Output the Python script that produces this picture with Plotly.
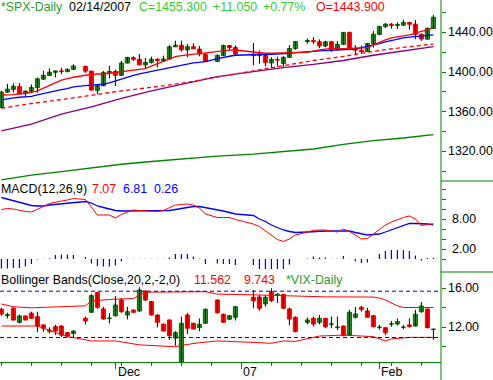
import numpy as np
import plotly.graph_objects as go

# ---------------- data ----------------
dates = [
    "2006-11-06", "2006-11-07", "2006-11-08", "2006-11-09", "2006-11-10",
    "2006-11-13", "2006-11-14", "2006-11-15", "2006-11-16", "2006-11-17",
    "2006-11-20", "2006-11-21", "2006-11-22", "2006-11-24",
    "2006-11-27", "2006-11-28", "2006-11-29", "2006-11-30", "2006-12-01",
    "2006-12-04", "2006-12-05", "2006-12-06", "2006-12-07", "2006-12-08",
    "2006-12-11", "2006-12-12", "2006-12-13", "2006-12-14", "2006-12-15",
    "2006-12-18", "2006-12-19", "2006-12-20", "2006-12-21", "2006-12-22",
    "2006-12-26", "2006-12-27", "2006-12-28", "2006-12-29",
    "2007-01-03", "2007-01-04", "2007-01-05",
    "2007-01-08", "2007-01-09", "2007-01-10", "2007-01-11", "2007-01-12",
    "2007-01-16", "2007-01-17", "2007-01-18", "2007-01-19",
    "2007-01-22", "2007-01-23", "2007-01-24", "2007-01-25", "2007-01-26",
    "2007-01-29", "2007-01-30", "2007-01-31", "2007-02-01", "2007-02-02",
    "2007-02-05", "2007-02-06", "2007-02-07", "2007-02-08", "2007-02-09",
    "2007-02-12", "2007-02-13", "2007-02-14",
]

spx_open = [1364.3, 1379.8, 1382.5, 1385.4, 1378.3, 1380.6, 1384.4, 1392.9, 1396.5, 1399.8,
            1401.2, 1400.4, 1402.7, 1405.9, 1401.0, 1381.6, 1386.1, 1399.5, 1400.6, 1396.7,
            1409.1, 1414.4, 1412.9, 1407.3, 1409.8, 1413.0, 1411.3, 1413.2, 1425.5, 1427.1,
            1422.4, 1425.5, 1423.2, 1418.1, 1410.8, 1416.6, 1426.8, 1424.7, 1418.0, 1416.6,
            1418.3, 1409.3, 1412.8, 1408.7, 1414.8, 1423.8, 1430.7, 1431.8, 1430.6, 1426.4,
            1430.5, 1423.0, 1428.0, 1440.1, 1423.9, 1422.0, 1420.6, 1428.7, 1437.9, 1445.9,
            1448.3, 1447.0, 1447.4, 1450.0, 1448.3, 1438.0, 1433.2, 1443.9]
spx_high = [1381.4, 1388.2, 1388.6, 1388.9, 1381.0, 1387.6, 1394.5, 1401.4, 1403.8, 1401.2,
            1404.4, 1403.5, 1407.9, 1405.9, 1401.0, 1387.9, 1401.1, 1406.3, 1402.5, 1411.2,
            1415.3, 1415.9, 1418.3, 1414.1, 1415.6, 1413.8, 1416.6, 1427.2, 1431.6, 1431.8,
            1428.3, 1429.1, 1426.4, 1418.8, 1417.9, 1427.7, 1427.3, 1427.0, 1429.4, 1421.8,
            1418.3, 1415.0, 1415.6, 1416.0, 1427.1, 1431.2, 1433.9, 1435.3, 1433.0, 1431.6,
            1431.4, 1431.3, 1440.1, 1440.7, 1427.3, 1426.9, 1428.8, 1441.6, 1446.6, 1449.3,
            1449.4, 1450.2, 1453.0, 1450.5, 1452.5, 1439.1, 1444.4, 1457.7]
spx_low = [1364.3, 1379.2, 1379.3, 1377.3, 1375.6, 1378.8, 1379.1, 1392.1, 1396.5, 1394.6,
           1397.9, 1400.0, 1402.3, 1399.3, 1381.4, 1377.8, 1386.1, 1393.8, 1385.9, 1396.7,
           1408.8, 1411.1, 1406.8, 1403.7, 1408.6, 1404.8, 1411.1, 1413.2, 1425.5, 1420.7,
           1414.9, 1423.5, 1415.9, 1410.3, 1410.5, 1416.6, 1422.1, 1416.8, 1407.0, 1408.4,
           1405.8, 1404.0, 1405.4, 1405.3, 1414.8, 1422.6, 1428.6, 1428.6, 1424.2, 1425.2,
           1420.4, 1421.7, 1428.0, 1422.3, 1417.0, 1418.5, 1420.6, 1424.8, 1437.9, 1444.5,
           1443.9, 1443.4, 1446.4, 1442.8, 1433.4, 1431.4, 1433.2, 1443.9]
spx_close = [1379.8, 1382.8, 1385.7, 1378.3, 1380.9, 1384.4, 1393.2, 1396.6, 1399.8, 1401.2,
             1400.5, 1402.8, 1406.1, 1401.0, 1381.9, 1386.7, 1399.5, 1400.6, 1396.7, 1409.1,
             1414.8, 1412.9, 1407.3, 1409.8, 1413.0, 1411.6, 1413.2, 1425.5, 1427.1, 1422.5,
             1425.6, 1423.5, 1418.3, 1410.8, 1416.9, 1426.8, 1424.7, 1418.3, 1416.6, 1418.3,
             1409.7, 1412.8, 1412.1, 1414.9, 1423.8, 1430.7, 1431.9, 1430.6, 1426.4, 1430.5,
             1423.0, 1428.0, 1440.1, 1423.9, 1422.2, 1420.6, 1428.8, 1438.2, 1445.9, 1448.4,
             1447.0, 1448.0, 1450.0, 1448.3, 1438.1, 1433.4, 1444.3, 1455.3]

ma_red = [1376.9, 1376.9, 1377.2, 1377.9, 1378.6, 1379.5, 1381.0, 1383.7, 1386.8, 1389.8,
          1391.9, 1393.4, 1394.8, 1396.8, 1397.8, 1398.1, 1398.1, 1398.8, 1399.4, 1400.6,
          1401.5, 1402.2, 1402.2, 1403.5, 1406.0, 1408.5, 1410.8, 1413.2, 1415.5, 1416.6,
          1417.2, 1418.0, 1418.7, 1419.4, 1420.6, 1421.4, 1422.2, 1422.3, 1420.3, 1419.4,
          1419.0, 1419.0, 1419.0, 1419.0, 1419.2, 1419.6, 1420.0, 1421.5, 1422.5, 1423.2,
          1423.8, 1423.6, 1423.4, 1423.8, 1424.1, 1424.3, 1424.6, 1427.4, 1430.2, 1432.6,
          1434.5, 1435.8, 1436.6, 1437.6, 1439.0, 1441.0, 1442.6, 1445.0]
ma_blue = [1371.9, 1373.1, 1373.9, 1374.6, 1375.0, 1375.4, 1376.9, 1378.4, 1379.8, 1381.0,
           1382.3, 1383.4, 1385.0, 1386.3, 1386.7, 1387.0, 1387.8, 1389.0, 1391.0, 1393.5,
           1395.4, 1396.8, 1398.2, 1399.5, 1400.7, 1402.0, 1403.5, 1404.8, 1406.0, 1407.2,
           1408.0, 1409.3, 1409.9, 1410.5, 1413.5, 1415.0, 1416.0, 1417.0, 1418.0, 1418.0,
           1418.0, 1418.0, 1418.2, 1418.5, 1419.0, 1419.6, 1420.8, 1421.3, 1421.5, 1421.7,
           1422.0, 1422.5, 1422.8, 1423.0, 1423.3, 1424.6, 1425.8, 1427.0, 1428.8, 1430.5,
           1432.0, 1433.2, 1434.6, 1435.3, 1435.8, 1436.1, 1436.6, 1437.5]

trend_dates = ["2006-11-06", "2006-11-13", "2006-11-20", "2006-11-27", "2006-12-04",
               "2006-12-11", "2006-12-18", "2006-12-26", "2007-01-03", "2007-01-10",
               "2007-01-17", "2007-01-24", "2007-01-31", "2007-02-07", "2007-02-14"]
ma_red_dash = [1363.5, 1368.3, 1372.2, 1376.9, 1381.0, 1384.6, 1388.7, 1395.0, 1401.5, 1406.5,
               1411.7, 1415.8, 1421.0, 1425.0, 1428.2]
ma_purple = [1340.8, 1347.5, 1357.5, 1365.0, 1373.5, 1381.0, 1387.5, 1395.5, 1400.4, 1404.5,
             1407.8, 1411.7, 1417.0, 1421.5, 1425.7]
ma_green = [1291.2, 1296.0, 1299.5, 1303.5, 1307.0, 1309.8, 1312.6, 1315.3, 1317.3, 1319.5,
            1322.4, 1327.0, 1330.8, 1333.5, 1336.9]

macd_line = [9.9, 10.1, 10.0, 9.7, 9.5, 9.4, 9.9, 10.5, 11.1, 11.4,
             11.6, 11.8, 12.1, 11.9, 10.3, 8.8, 8.8, 8.8, 8.2, 8.9,
             9.4, 9.8, 9.7, 9.6, 9.5, 9.5, 9.7, 10.3, 10.8, 10.9,
             11.0, 10.8, 10.2, 9.0, 8.3, 8.3, 8.3, 7.9, 7.0, 6.5,
             5.6, 4.7, 3.9, 3.5, 4.0, 4.8, 5.5, 5.7, 5.8, 5.8,
             5.6, 5.4, 6.0, 5.5, 4.8, 4.0, 4.1, 5.0, 5.9, 6.8,
             7.4, 7.9, 8.3, 8.6, 8.0, 6.7, 6.9, 7.07]
macd_signal = [12.3, 12.0, 11.7, 11.4, 11.1, 10.7, 10.6, 10.6, 10.8, 10.9,
               11.0, 11.1, 11.3, 11.5, 11.2, 10.6, 10.3, 10.0, 9.7, 9.6,
               9.6, 9.6, 9.6, 9.6, 9.6, 9.6, 9.6, 9.7, 9.9, 10.1,
               10.3, 10.5, 10.5, 10.3, 9.8, 9.6, 9.3, 9.0, 8.7, 8.0,
               7.5, 6.8, 6.3, 5.8, 5.5, 5.3, 5.4, 5.5, 5.5, 5.6,
               5.6, 5.6, 5.6, 5.6, 5.3, 5.1, 4.8, 4.9, 5.0, 5.4,
               5.8, 6.2, 6.7, 7.1, 7.1, 7.1, 7.0, 6.81]
macd_hist = [-1.9, -1.9, -1.8, -1.8, -1.5, -1.0, -0.1, 0.05, 0.1, 0.8,
             0.9, 0.9, 0.8, 0.4, -0.9, -1.4, -1.5, -1.5, -1.3, -0.5,
             0.05, 0.05, 0.05, 0.05, 0.05, 0.05, 0.05, 0.3, 1.0, 1.0,
             1.0, 0.5, 0.1, -1.0, -0.9, -1.0, -1.0, -1.2, -1.2, -2.0,
             -2.0, -2.0, -2.0, -2.0, -1.1, 0.0, 0.1, 0.5, 0.3, 0.3,
             0.05, 0.05, 0.6, 0.05, -0.5, -0.8, -0.7, 0.05, 1.0, 1.6,
             1.8, 1.8, 1.8, 1.6, 0.7, -0.3, 0.2, 0.26]

vix_open = [13.85, 13.2, 13.95, 12.51, 13.16, 13.44, 13.09, 12.24, 11.6, 12.06,
            12.13, 11.45, 11.38, 12.92, 13.54, 15.55, 13.88, 12.9, 13.19, 14.8,
            13.26, 13.77, 13.67, 15.72, 14.63, 13.26, 12.31, 12.75, 10.9, 8.3,
            13.26, 12.41, 11.96, 12.41, 14.8, 13.33, 12.82, 13.03, 15.08, 15.1,
            14.4, 15.65, 15.35, 15.38, 13.88, 13.03, 12.51, 12.92, 12.51, 12.92,
            12.3, 11.98, 12.13, 11.2, 13.03, 14.05, 13.67, 13.19, 11.98, 11.96,
            12.32, 12.34, 11.98, 12.24, 12.13, 13.6, 13.88, 11.77]
vix_high = [14.0, 13.5, 14.1, 13.3, 13.2, 13.6, 13.6, 12.3, 12.0, 12.25,
            12.2, 11.5, 11.65, 13.1, 15.4, 15.6, 14.1, 13.45, 15.2, 15.0,
            14.1, 13.8, 16.1, 15.75, 14.7, 13.3, 12.4, 12.8, 11.6, 13.1,
            13.45, 12.45, 12.9, 13.9, 14.85, 13.4, 13.2, 14.15, 15.83, 15.3,
            15.3, 16.0, 15.5, 15.4, 14.0, 13.1, 13.0, 13.1, 13.26, 12.95,
            13.1, 13.1, 12.15, 13.8, 14.1, 14.2, 14.0, 13.2, 12.25, 11.97,
            12.65, 12.9, 12.25, 12.9, 13.8, 14.6, 13.9, 11.85]
vix_low = [13.2, 12.9, 12.7, 12.4, 12.7, 12.9, 11.5, 11.55, 11.35, 11.2,
           11.0, 11.0, 10.9, 12.3, 13.5, 13.9, 12.8, 12.4, 13.1, 13.5,
           12.8, 13.5, 13.6, 14.7, 13.2, 12.0, 11.6, 10.7, 10.1, 8.3,
           11.3, 11.8, 11.6, 12.4, 13.4, 12.5, 12.8, 12.7, 13.95, 13.7,
           14.1, 14.6, 14.5, 13.9, 12.2, 11.5, 12.3, 12.1, 12.3, 11.9,
           11.9, 11.7, 11.1, 11.1, 12.9, 13.6, 13.0, 12.0, 11.75, 11.2,
           12.05, 12.2, 11.8, 12.0, 12.1, 13.5, 11.9, 10.7]
vix_close = [13.36, 13.3, 12.75, 13.16, 12.75, 12.92, 12.13, 11.9, 11.7, 11.62,
             11.2, 11.1, 11.62, 12.65, 15.24, 14.05, 12.85, 12.95, 14.29, 13.6,
             13.6, 13.54, 15.83, 14.8, 13.26, 12.51, 11.62, 11.14, 11.45, 12.41,
             11.9, 11.82, 12.31, 13.85, 13.5, 12.51, 13.19, 14.11, 14.73, 13.95,
             15.08, 14.73, 15.4, 13.95, 12.85, 11.55, 12.75, 12.34, 12.92, 12.06,
             12.35, 12.03, 11.14, 13.54, 13.36, 13.85, 13.03, 12.06, 12.02, 11.45,
             12.36, 12.58, 12.02, 12.06, 13.33, 14.18, 11.96, 11.82]

bb_upper_dates = ["2006-11-06", "2006-11-08", "2006-11-13", "2006-11-22", "2006-11-24",
                  "2006-11-27", "2006-11-30", "2006-12-06", "2006-12-07", "2006-12-08",
                  "2006-12-22", "2006-12-26", "2007-01-03", "2007-01-12", "2007-01-19",
                  "2007-01-31", "2007-02-01", "2007-02-02", "2007-02-05", "2007-02-06",
                  "2007-02-07", "2007-02-14"]
bb_upper = [14.39, 14.1, 14.0, 14.1, 14.2, 14.7, 14.85, 14.95, 15.3, 15.6,
            15.65, 15.4, 15.33, 15.24, 15.12, 15.1, 15.0, 14.8, 14.5, 14.2,
            14.03, 14.03]
bb_lower_dates = ["2006-11-06", "2006-11-14", "2006-11-15", "2006-11-17", "2006-11-21",
                  "2006-11-22", "2006-11-27", "2006-12-01", "2006-12-07", "2006-12-15",
                  "2006-12-18", "2006-12-21", "2006-12-26", "2007-01-03", "2007-01-08",
                  "2007-01-10", "2007-01-12", "2007-01-18", "2007-01-24", "2007-01-31",
                  "2007-02-02", "2007-02-05", "2007-02-08", "2007-02-14"]
bb_lower = [12.13, 12.13, 11.9, 11.5, 11.04, 10.95, 10.6, 10.6, 10.2, 10.0,
            10.15, 10.42, 10.6, 10.45, 10.36, 10.6, 10.55, 11.1, 11.2, 11.04,
            10.6, 10.8, 10.97, 10.97]
vix_ref_levels = [15.7, 10.95]

price_ticks = [1440, 1400, 1360, 1320]
macd_ticks = [8, 2]
vix_ticks = [16, 12]
month_ticks = ["2006-12-01", "2007-01-01", "2007-02-01"]
month_labels = ["Dec", "07", "Feb"]

# ---------------- layout constants ----------------
W, H = 493, 380
PW, PH = 441, 362          # plot area size
GREEN_AX = "#008000"
UP = "#1f911f"
UP_EDGE = "#0d650d"
DN = "#ff0000"
FONT = "Liberation Sans, Arial, sans-serif"

t0 = np.datetime64("2006-11-06")


def xpos(ds):
    return np.busday_count(t0, np.array(ds, dtype="datetime64[D]")).astype(float)


def px(x):
    return x / PW


def py(y):
    return (PH - y) / PH


X = xpos(dates)
fig = go.Figure()


def add_candles(o, h, l, c, xa, ya):
    wx, wy = [], []
    for xi, hi, li in zip(X, h, l):
        wx += [xi, xi, None]
        wy += [li, hi, None]
    fig.add_trace(go.Scatter(x=wx, y=wy, mode="lines", line=dict(color="black", width=1),
                             xaxis=xa, yaxis=ya, hoverinfo="skip", showlegend=False))
    up = [i for i in range(len(o)) if c[i] >= o[i]]
    dn = [i for i in range(len(o)) if c[i] < o[i]]
    for idx, col, edge in ((up, UP, UP_EDGE), (dn, DN, DN)):
        fig.add_trace(go.Bar(
            x=[X[i] for i in idx], y=[abs(c[i] - o[i]) for i in idx],
            base=[min(o[i], c[i]) for i in idx], width=0.68,
            marker=dict(color=col, line=dict(color=edge, width=1)),
            xaxis=xa, yaxis=ya, showlegend=False, hoverinfo="skip"))


# price panel
add_candles(spx_open, spx_high, spx_low, spx_close, "x", "y")
Xt = xpos(trend_dates)
fig.add_trace(go.Scatter(x=Xt, y=ma_green, mode="lines", line=dict(color="#008000", width=1.3),
                         xaxis="x", yaxis="y", showlegend=False))
fig.add_trace(go.Scatter(x=Xt, y=ma_purple, mode="lines", line=dict(color="#800080", width=1.3),
                         xaxis="x", yaxis="y", showlegend=False))
fig.add_trace(go.Scatter(x=Xt, y=ma_red_dash, mode="lines",
                         line=dict(color="#ff0000", width=1.3, dash="4px,3px"),
                         xaxis="x", yaxis="y", showlegend=False))
fig.add_trace(go.Scatter(x=X, y=ma_blue, mode="lines", line=dict(color="#0000ff", width=1.3),
                         xaxis="x", yaxis="y", showlegend=False))
fig.add_trace(go.Scatter(x=X, y=ma_red, mode="lines", line=dict(color="#ff0000", width=1.3),
                         xaxis="x", yaxis="y", showlegend=False))

# MACD panel
fig.add_trace(go.Bar(x=X, y=macd_hist, width=0.2, marker=dict(color="#0000ff", line=dict(width=0)),
                     xaxis="x2", yaxis="y2", showlegend=False))
fig.add_trace(go.Scatter(x=X, y=macd_signal, mode="lines", line=dict(color="#0000ff", width=1.3),
                         xaxis="x2", yaxis="y2", showlegend=False))
fig.add_trace(go.Scatter(x=X, y=macd_line, mode="lines", line=dict(color="#ff0000", width=1),
                         xaxis="x2", yaxis="y2", showlegend=False))

# VIX panel
add_candles(vix_open, vix_high, vix_low, vix_close, "x3", "y3")
fig.add_trace(go.Scatter(x=xpos(bb_upper_dates), y=bb_upper, mode="lines",
                         line=dict(color="#ff0000", width=1), xaxis="x3", yaxis="y3", showlegend=False))
fig.add_trace(go.Scatter(x=xpos(bb_lower_dates), y=bb_lower, mode="lines",
                         line=dict(color="#ff0000", width=1), xaxis="x3", yaxis="y3", showlegend=False))

x_range = [-0.2333, 73.267]
d_price = [py(181), 1.0]
d_macd = [py(272), py(181)]
d_vix = [0.0, py(272)]

xcommon = dict(range=x_range, showgrid=False, zeroline=False, showticklabels=False)
ycommon = dict(side="right", showgrid=False, zeroline=False, showticklabels=False,
               ticks="outside", ticklen=4, tickcolor=GREEN_AX, tickmode="array")

month_pos = list(xpos(month_ticks))
fig.update_layout(
    width=W, height=H, autosize=False,
    margin=dict(l=0, r=W - PW, t=0, b=H - PH, pad=0),
    paper_bgcolor="white", plot_bgcolor="white",
    barmode="overlay", showlegend=False,
    xaxis=dict(anchor="y", ticks="", **xcommon),
    xaxis2=dict(anchor="y2", matches="x", ticks="", **xcommon),
    xaxis3=dict(anchor="y3", matches="x", ticks="outside", ticklen=6, tickcolor=GREEN_AX,
                tickmode="array", tickvals=month_pos,
                showline=True, linecolor=GREEN_AX, linewidth=1,
                minor=dict(ticks="outside", ticklen=3, tickcolor=GREEN_AX, tick0=0, dtick=5),
                **xcommon),
    yaxis=dict(domain=d_price, anchor="x", range=[1290.1, 1472.75],
               tickvals=list(range(1300, 1461, 20)), **ycommon),
    yaxis2=dict(domain=d_macd, anchor="x2", range=[-2.6, 15.6],
                tickvals=list(range(0, 15, 2)), **ycommon),
    yaxis3=dict(domain=d_vix, anchor="x3", range=[8.44, 17.67],
                tickvals=[10, 12, 14, 16], **ycommon),
)

shapes = [
    dict(type="line", xref="paper", yref="paper", x0=1, x1=1, y0=py(H), y1=1,
         line=dict(color=GREEN_AX, width=1)),
    dict(type="line", xref="paper", yref="paper", x0=1, x1=W / PW, y0=py(181), y1=py(181),
         line=dict(color=GREEN_AX, width=1)),
    dict(type="line", xref="paper", yref="paper", x0=1, x1=W / PW, y0=py(272), y1=py(272),
         line=dict(color=GREEN_AX, width=1)),
]
for lv in vix_ref_levels:
    shapes.append(dict(type="line", xref="paper", yref="y3", x0=0, x1=1, y0=lv, y1=lv,
                       line=dict(color="#0000b0", width=1, dash="4px,3px")))
fig.update_layout(shapes=shapes)

ann = []


def text(x, y, s, color, size=12.4, yref="paper"):
    ann.append(dict(x=px(x - 1), y=(py(y) if yref == "paper" else y), xref="paper", yref=yref,
                    text=s, showarrow=False, xanchor="left", yanchor="middle",
                    font=dict(family=FONT, size=size, color=color)))


text(0, 7, "*SPX-Daily", "#2e9b2e")
text(68, 7, "02/14/2007", "#000000")
text(138, 7, "C=1455.300", "#33cc33")
text(212, 7, "+11.050", "#33cc33")
text(262, 7, "+0.77%", "#33cc33")
text(315, 7, "O=1443.900", "#ff0000")

text(0, 189, "MACD(12,26,9)", "#000000")
text(91, 189, "7.07", "#ff0000")
text(122, 189, "6.81", "#0000ff")
text(153, 189, "0.26", "#0000ff")

text(0, 280, "Bollinger Bands(Close,20,2,-2,0)", "#000000")
text(193, 280, "11.562", "#ff0000")
text(243, 280, "9.743", "#ff0000")
text(285, 280, "*VIX-Daily", "#2e9b2e")

for v in price_ticks:
    text(447, v, f"{v:.2f}", "#000000", yref="y")
for v in macd_ticks:
    text(451, v, f"{v:.2f}", "#000000", yref="y2")
for v in vix_ticks:
    text(447, v, f"{v:.2f}", "#000000", yref="y3")

label_x = [117, 242, 380]
for lx, lab in zip(label_x, month_labels):
    text(lx, 372, lab, "#000000")

fig.update_layout(annotations=ann)
fig.write_html("out.html", config={"displayModeBar": False, "staticPlot": True},
               post_script="document.body.style.margin='0';document.body.style.overflow='hidden';")
